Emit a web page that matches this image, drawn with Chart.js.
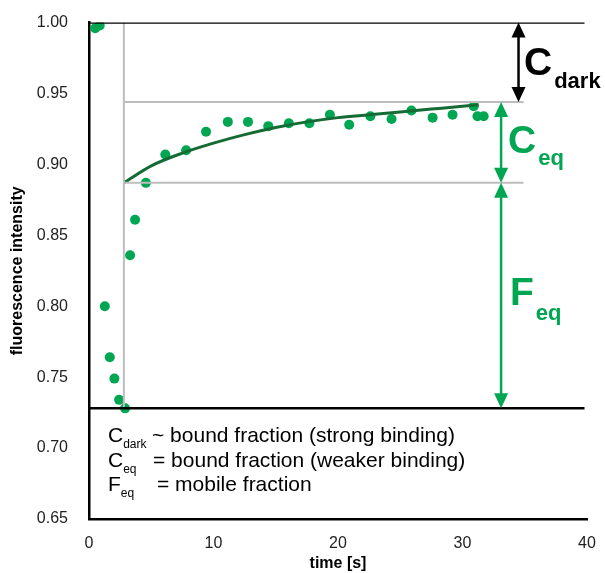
<!DOCTYPE html>
<html>
<head>
<meta charset="utf-8">
<script src="https://cdn.jsdelivr.net/npm/chart.js@4.4.1/dist/chart.umd.min.js"></script>
<style>
  html, body { margin: 0; padding: 0; background: #fff; }
  #wrap { width: 605px; height: 573px; }
</style>
</head>
<body>
<div id="wrap"><canvas id="chart" width="605" height="573"></canvas></div>
<script>
// measured points (time in s, normalised intensity)
const timePoints = [0.5, 0.86, 1.27, 1.67, 2.04, 2.42, 2.9, 3.3, 3.7, 4.57, 6.13, 7.8, 9.4, 11.15, 12.77, 14.4, 16.05, 17.7, 19.35, 20.9, 22.6, 24.3, 25.9, 27.6, 29.2, 30.9, 31.2, 31.7];
const intensity = [0.996, 0.998, 0.800, 0.764, 0.749, 0.734, 0.728, 0.836, 0.861, 0.887, 0.907, 0.910, 0.923, 0.930, 0.930, 0.927, 0.929, 0.929, 0.935, 0.928, 0.934, 0.932, 0.938, 0.933, 0.935, 0.941, 0.934, 0.934];

// fitted recovery curve
const fitTime = [2.8, 5, 7.5, 10, 12.5, 15, 17.5, 20, 22.5, 25, 27.5, 30, 31.3];
const fitValue = [0.887, 0.899, 0.908, 0.915, 0.921, 0.926, 0.930, 0.933, 0.935, 0.937, 0.939, 0.941, 0.942];

// reference levels
const levelTop = 1.0;
const levelEq = 0.944;
const levelMobile = 0.887;
const levelBottom = 0.728;
const bleachTime = 2.8;

const xTicks = [0, 10, 20, 30, 40];
const yTicks = [0.65, 0.70, 0.75, 0.80, 0.85, 0.90, 0.95, 1.00];

const GREEN = '#00a651';
const FONT = "Arial, 'Liberation Sans', sans-serif";

function seg(x1, y1, x2, y2, color, width) {
  return {
    type: 'line',
    data: [{ x: x1, y: y1 }, { x: x2, y: y2 }],
    borderColor: color,
    borderWidth: width,
    pointRadius: 0,
    showLine: true,
    fill: false
  };
}

// arrows and labels on the right + text box
const annotations = {
  id: 'annotations',
  afterDatasetsDraw(chart) {
    const { ctx, scales: { x, y } } = chart;

    function arrow(t, v1, v2, color) {
      const px = x.getPixelForValue(t);
      const a = y.getPixelForValue(v1);
      const b = y.getPixelForValue(v2);
      const hw = 7, hl = 15;
      ctx.save();
      ctx.strokeStyle = color;
      ctx.fillStyle = color;
      ctx.lineWidth = 2.5;
      ctx.beginPath();
      ctx.moveTo(px, a + hl - 2);
      ctx.lineTo(px, b - hl + 2);
      ctx.stroke();
      ctx.beginPath();
      ctx.moveTo(px, a);
      ctx.lineTo(px - hw, a + hl);
      ctx.lineTo(px + hw, a + hl);
      ctx.closePath();
      ctx.fill();
      ctx.beginPath();
      ctx.moveTo(px, b);
      ctx.lineTo(px - hw, b - hl);
      ctx.lineTo(px + hw, b - hl);
      ctx.closePath();
      ctx.fill();
      ctx.restore();
    }

    arrow(34.5, levelTop, levelEq, '#000');
    arrow(33.1, levelEq, levelMobile, GREEN);
    arrow(33.1, levelMobile, levelBottom, GREEN);

    function bigLabel(main, sub, px, py, color, mainSize, subSize, subDrop) {
      ctx.save();
      ctx.fillStyle = color;
      ctx.textBaseline = 'alphabetic';
      ctx.font = 'bold ' + mainSize + 'px ' + FONT;
      ctx.fillText(main, px, py);
      const w = ctx.measureText(main).width;
      ctx.font = 'bold ' + subSize + 'px ' + FONT;
      ctx.fillText(sub, px + w + 2, py + subDrop);
      ctx.restore();
    }

    bigLabel('C', 'dark', 524, 75, '#000', 39, 22, 13);
    bigLabel('C', 'eq', 508, 153, GREEN, 39, 22, 12);
    bigLabel('F', 'eq', 510, 305, GREEN, 39, 22, 15);

    // explanation text
    const rows = [
      ['C', 'dark', '~ bound fraction (strong binding)', 442, 152],
      ['C', 'eq', '= bound fraction (weaker binding)', 467, 153],
      ['F', 'eq', '= mobile fraction', 491, 157]
    ];
    ctx.save();
    ctx.fillStyle = '#000';
    ctx.textBaseline = 'alphabetic';
    rows.forEach(r => {
      ctx.font = '21px ' + FONT;
      ctx.fillText(r[0], 108, r[3]);
      const w = ctx.measureText(r[0]).width;
      ctx.font = '12px ' + FONT;
      ctx.fillText(r[1], 108 + w, r[3] + 6);
      ctx.font = '21px ' + FONT;
      ctx.fillText(r[2], r[4], r[3]);
    });
    ctx.restore();
  }
};

new Chart(document.getElementById('chart'), {
  type: 'scatter',
  data: {
    datasets: [
      seg(0, levelTop, 39.8, levelTop, '#000', 2.5),
      seg(0, levelBottom, 39.8, levelBottom, '#000', 2.5),
      seg(bleachTime, levelEq, 34.9, levelEq, '#bdbdbd', 2),
      seg(bleachTime, levelMobile, 34.9, levelMobile, '#bdbdbd', 2),
      seg(bleachTime, levelBottom, bleachTime, levelTop, '#bdbdbd', 2),
      {
        type: 'line',
        data: fitTime.map((t, i) => ({ x: t, y: fitValue[i] })),
        borderColor: '#146b34',
        borderWidth: 3,
        pointRadius: 0,
        cubicInterpolationMode: 'monotone',
        fill: false
      },
      {
        data: timePoints.map((t, i) => ({ x: t, y: intensity[i] })),
        backgroundColor: GREEN,
        borderColor: GREEN,
        borderWidth: 0,
        pointRadius: 5
      }
    ]
  },
  options: {
    responsive: false,
    animation: false,
    layout: { padding: { top: 22, right: 18, left: 0, bottom: 0 } },
    plugins: { legend: { display: false }, tooltip: { enabled: false } },
    scales: {
      x: {
        type: 'linear',
        min: 0,
        max: 40,
        afterBuildTicks: s => { s.ticks = xTicks.map(v => ({ value: v })); },
        afterFit: s => { s.height = 54; },
        grid: { display: false },
        border: { color: '#000', width: 2.5 },
        ticks: { color: '#222', font: { family: FONT, size: 16 }, padding: 7 },
        title: { display: true, text: 'time [s]', color: '#000', font: { family: FONT, size: 16, weight: 'bold' }, padding: { top: 0, bottom: 0 } }
      },
      y: {
        min: 0.65,
        max: 1.0,
        afterBuildTicks: s => { s.ticks = yTicks.map(v => ({ value: v })); },
        afterFit: s => { s.width = 89; },
        grid: { display: false },
        border: { color: '#000', width: 2.5 },
        ticks: { color: '#222', font: { family: FONT, size: 16 }, padding: 13, callback: v => v.toFixed(2) },
        title: { display: true, text: 'fluorescence intensity', color: '#000', font: { family: FONT, size: 16, weight: 'bold' }, padding: { top: 8, bottom: 0 } }
      }
    }
  },
  plugins: [annotations]
});
</script>
</body>
</html>
